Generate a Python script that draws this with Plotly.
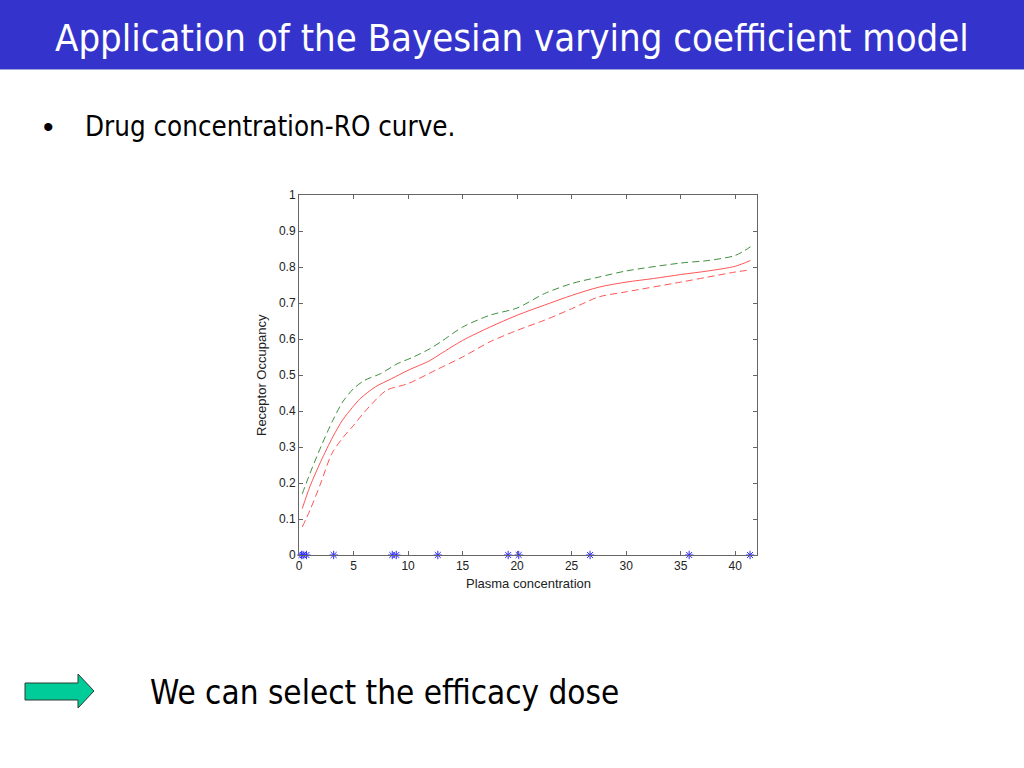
import plotly.graph_objects as go

# ---- data ----
mean_x = [0.3, 1.0, 2.0, 3.1, 4.0, 4.9, 5.6, 7.0, 8.5, 10.0, 12.0, 13.0, 15.0, 17.5, 20.0, 22.5, 25.0, 27.5, 30.0, 32.5, 35.0, 37.5, 40.0, 41.4]
mean_y = [0.129, 0.19, 0.26, 0.328, 0.375, 0.41, 0.434, 0.467, 0.49, 0.513, 0.54, 0.559, 0.596, 0.633, 0.666, 0.694, 0.721, 0.744, 0.758, 0.768, 0.779, 0.789, 0.802, 0.818]

upper_x = [0.3, 1.0, 2.0, 3.1, 4.0, 5.0, 6.0, 7.5, 9.0, 10.5, 12.0, 13.0, 15.0, 17.5, 20.0, 22.5, 25.0, 27.5, 30.0, 35.0, 37.5, 40.0, 41.4]
upper_y = [0.17, 0.226, 0.30, 0.374, 0.425, 0.462, 0.485, 0.504, 0.531, 0.55, 0.573, 0.592, 0.633, 0.666, 0.686, 0.726, 0.754, 0.772, 0.789, 0.811, 0.818, 0.832, 0.856]

lower_x = [0.3, 1.0, 2.0, 3.0, 4.0, 5.0, 6.0, 8.0, 10.0, 12.5, 15.0, 17.5, 20.0, 22.5, 25.0, 27.5, 30.0, 35.0, 37.5, 40.0, 41.4]
lower_y = [0.078, 0.124, 0.2, 0.281, 0.325, 0.36, 0.397, 0.457, 0.476, 0.513, 0.55, 0.592, 0.624, 0.652, 0.684, 0.717, 0.731, 0.758, 0.772, 0.786, 0.792]

obs_x = [0.22, 0.37, 0.68, 3.18, 8.55, 8.92, 12.73, 19.18, 20.15, 26.69, 35.78, 41.36]
obs_y = [0] * len(obs_x)

x_ticks = [0, 5, 10, 15, 20, 25, 30, 35, 40]
y_ticks = [0, 0.1, 0.2, 0.3, 0.4, 0.5, 0.6, 0.7, 0.8, 0.9, 1]
y_tick_labels = ["0", "0.1", "0.2", "0.3", "0.4", "0.5", "0.6", "0.7", "0.8", "0.9", "1"]

title_text = "Application of the Bayesian varying coefficient model"
bullet_text = "Drug concentration-RO curve."
bottom_text = "We can select the efficacy dose"

# ---- layout geometry (pixels) ----
W, H = 1024, 768
L, R, T, B = 299, 267, 195, 213
PW, PH = W - L - R, H - T - B


def px(x):
    return (x - L) / PW


def py(y):
    return (H - y - B) / PH


SLIDE_FONT = "Liberation Sans Narrow, Arial Narrow, DejaVu Sans Condensed, sans-serif"

fig = go.Figure()
fig.add_trace(go.Scatter(x=upper_x, y=upper_y, mode="lines", line=dict(color="#3f8f3f", width=1, dash="7px,4px", shape="spline", smoothing=0.8), showlegend=False))
fig.add_trace(go.Scatter(x=lower_x, y=lower_y, mode="lines", line=dict(color="#ff5555", width=1, dash="7px,4px", shape="spline", smoothing=0.8), showlegend=False))
fig.add_trace(go.Scatter(x=mean_x, y=mean_y, mode="lines", line=dict(color="#ff5555", width=1, shape="spline", smoothing=0.8), showlegend=False))
fig.add_trace(go.Scatter(x=obs_x, y=obs_y, mode="markers", cliponaxis=False,
                         marker=dict(symbol="asterisk-open", size=7, color="#2a2aff", line=dict(color="#2a2aff", width=1)), showlegend=False))

axis_common = dict(showgrid=False, zeroline=False, showline=True, mirror="allticks", linecolor="#666666", linewidth=1,
                   ticks="inside", ticklen=4, tickcolor="#666666", tickfont=dict(family="Arial", size=12, color="#222"))
fig.update_xaxes(range=[0, 42], tickvals=x_ticks, ticktext=[str(v) for v in x_ticks], **axis_common)
fig.update_yaxes(range=[0, 1], tickvals=y_ticks, ticktext=y_tick_labels, **axis_common)

shapes = [
    # title bar
    dict(type="rect", xref="paper", yref="paper", x0=px(0), x1=px(W), y0=py(69), y1=py(0), fillcolor="#3434cc", line=dict(width=0), layer="below"),
    dict(type="line", xref="paper", yref="paper", x0=px(0), x1=px(W), y0=py(69.5), y1=py(69.5), line=dict(color="#9aa6d8", width=1)),
    # arrow
    dict(type="path", xref="paper", yref="paper",
         path=("M {a},{b} L {c},{b} L {c},{d} L {e},{f} L {c},{g} L {c},{h} L {a},{h} Z").format(
             a=px(25), b=py(683), c=px(78), d=py(674), e=px(94), f=py(691), g=py(708), h=py(700)),
         fillcolor="#00cc99", line=dict(color="#2e3a33", width=1)),
]

annotations = [
    dict(text=title_text, x=px(512), y=py(38), xref="paper", yref="paper", showarrow=False, xanchor="center", yanchor="middle",
         font=dict(family=SLIDE_FONT, size=38, color="white")),
    dict(text="\u2022", x=px(49), y=py(126), xref="paper", yref="paper", showarrow=False, xanchor="center", yanchor="middle",
         font=dict(family="Arial", size=30, color="black")),
    dict(text=bullet_text, x=px(83), y=py(126), xref="paper", yref="paper", showarrow=False, xanchor="left", yanchor="middle",
         font=dict(family=SLIDE_FONT, size=27.5, color="black")),
    dict(text=bottom_text, x=px(148), y=py(692), xref="paper", yref="paper", showarrow=False, xanchor="left", yanchor="middle",
         font=dict(family=SLIDE_FONT, size=33, color="black")),
    dict(text="Plasma concentration", x=px(528), y=py(583), xref="paper", yref="paper", showarrow=False, xanchor="center", yanchor="middle",
         font=dict(family="Arial", size=13, color="#222")),
    dict(text="Receptor Occupancy", x=px(261), y=py(375), xref="paper", yref="paper", showarrow=False, xanchor="center", yanchor="middle",
         textangle=-90, font=dict(family="Arial", size=13, color="#222")),
]

fig.update_layout(width=W, height=H, margin=dict(l=L, r=R, t=T, b=B, autoexpand=False),
                  paper_bgcolor="white", plot_bgcolor="white", shapes=shapes, annotations=annotations)

fig.write_html("out.html", config={"displayModeBar": False},
               post_script="document.body.style.margin='0';document.body.style.overflow='hidden';")
